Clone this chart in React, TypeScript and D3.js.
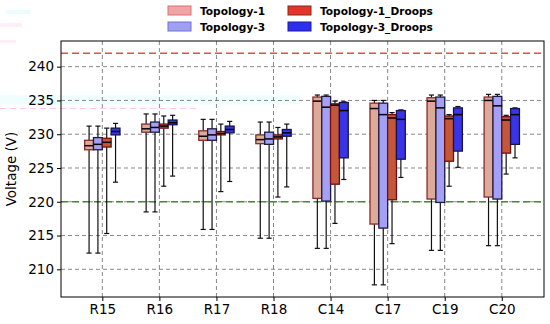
import React, { useEffect, useRef } from 'react';
import * as d3 from 'd3';

// five-number summaries per location: [low whisker, q1, median, q3, high whisker]
const categories = ['R15', 'R16', 'R17', 'R18', 'C14', 'C17', 'C19', 'C20'];

const topology1 = [
    [212.4, 227.7, 228.3, 229.1, 231.2],
    [218.5, 230.3, 230.8, 231.5, 233.0],
    [215.9, 229.1, 229.7, 230.5, 232.2],
    [214.6, 228.6, 229.2, 229.9, 231.8],
    [213.1, 220.5, 234.9, 235.5, 235.8],
    [207.7, 216.7, 233.8, 234.6, 235.0],
    [212.8, 220.4, 234.9, 235.4, 235.8],
    [213.5, 220.7, 235.0, 235.5, 235.9],
];

const topology3 = [
    [212.4, 227.7, 228.5, 229.5, 231.2],
    [218.5, 230.3, 231.0, 231.8, 233.0],
    [215.9, 229.1, 229.9, 230.8, 232.2],
    [214.6, 228.5, 229.3, 230.3, 231.8],
    [213.1, 220.1, 234.0, 235.6, 235.8],
    [207.7, 216.1, 232.9, 234.6, 235.0],
    [212.8, 219.9, 233.9, 235.5, 235.8],
    [213.5, 220.4, 234.2, 235.6, 235.9],
];

const topology1Droops = [
    [215.3, 228.1, 228.8, 229.4, 230.9],
    [222.3, 230.9, 231.2, 231.5, 232.7],
    [221.5, 229.9, 230.1, 230.4, 231.5],
    [220.7, 229.3, 229.6, 229.9, 231.0],
    [216.8, 222.6, 234.3, 234.5, 234.9],
    [213.8, 220.3, 232.4, 232.9, 233.2],
    [222.3, 226.0, 232.3, 232.7, 232.9],
    [224.1, 227.2, 232.1, 232.6, 232.8],
];

const topology3Droops = [
    [222.9, 229.9, 230.4, 230.9, 231.6],
    [223.8, 231.4, 231.7, 232.1, 232.8],
    [223.0, 230.2, 230.7, 231.2, 231.9],
    [222.2, 229.7, 230.2, 230.7, 231.5],
    [223.3, 226.5, 233.5, 234.7, 234.8],
    [223.6, 226.3, 232.2, 233.5, 233.6],
    [225.1, 227.5, 232.9, 233.9, 234.1],
    [226.5, 228.5, 232.9, 233.8, 233.9],
];

const yTicks = [210, 215, 220, 225, 230, 235, 240];
const upperLimit = 242;
const lowerLimit = 220;

const series = [
    { name: 'Topology-1', data: topology1, fill: '#dcaa98', edge: '#8b2a2a', legendFill: '#f2a3a3', legendEdge: '#e07070', offset: -0.232 },
    { name: 'Topology-3', data: topology3, fill: '#a4a0f6', edge: '#1c1c40', legendFill: '#a0a0f2', legendEdge: '#7070d8', offset: -0.077 },
    { name: 'Topology-1_Droops', data: topology1Droops, fill: '#c4573a', edge: '#6e1010', legendFill: '#e3352a', legendEdge: '#8a2a10', offset: 0.077 },
    { name: 'Topology-3_Droops', data: topology3Droops, fill: '#3a34e8', edge: '#141450', legendFill: '#2e2ef0', legendEdge: '#1a1aa0', offset: 0.232 },
];

export default function App() {
    const width = 550;
    const height = 324;
    const svgRef = useRef<SVGSVGElement>(null);

    useEffect(() => {
        const svg = d3.select(svgRef.current);
        svg.selectAll('*').remove();

        const left = 61, right = 544, top = 41, bottom = 297;
        const font = 'DejaVu Sans, sans-serif';

        const x = d3.scaleLinear().domain([-0.724, 7.74]).range([left, right]);
        const y = d3.scaleLinear().domain([205.9, 243.8]).range([bottom, top]);

        svg.append('rect').attr('width', width).attr('height', height).attr('fill', '#fff');

        // faint smudges from the source image
        svg.append('rect').attr('x', 0).attr('y', y(235) - 5).attr('width', 300).attr('height', 9).attr('fill', '#effdfd');
        svg.append('line').attr('x1', 0).attr('x2', 200).attr('y1', y(233.8)).attr('y2', y(233.8))
            .attr('stroke', '#ffc8ec').attr('stroke-width', 1).attr('stroke-dasharray', '6,4');
        [[6, 10, 24, 4, '#ecfcfc'], [0, 23, 22, 4, '#fdeef8'], [0, 40, 16, 3, '#fdeef8']].forEach(([rx, ry, rw, rh, c]) => {
            svg.append('rect').attr('x', rx).attr('y', ry).attr('width', rw).attr('height', rh).attr('fill', c as string);
        });

        const g = svg.append('g');

        // grid
        g.selectAll('.ygrid').data(yTicks).enter().append('line')
            .attr('x1', left).attr('x2', right)
            .attr('y1', d => y(d)).attr('y2', d => y(d))
            .attr('stroke', '#6a6a6a').attr('stroke-width', 0.8).attr('stroke-dasharray', '4,3');
        g.selectAll('.xgrid').data(categories).enter().append('line')
            .attr('x1', (d, i) => x(i)).attr('x2', (d, i) => x(i))
            .attr('y1', top).attr('y2', bottom)
            .attr('stroke', '#6a6a6a').attr('stroke-width', 0.8).attr('stroke-dasharray', '4,3');

        // limit lines
        g.append('line').attr('x1', left).attr('x2', right)
            .attr('y1', y(upperLimit)).attr('y2', y(upperLimit))
            .attr('stroke', '#e0504a').attr('stroke-width', 1.5).attr('stroke-dasharray', '7,4');
        g.append('line').attr('x1', left).attr('x2', right)
            .attr('y1', y(lowerLimit)).attr('y2', y(lowerLimit))
            .attr('stroke', '#4f8a30').attr('stroke-width', 1.5).attr('stroke-dasharray', '7,4');

        // boxes
        const boxW = x(0.155) - x(0);
        const capW = x(0.09) - x(0);
        series.forEach(s => {
            const sg = g.append('g');
            s.data.forEach((d, i) => {
                const [lo, q1, med, q3, hi] = d;
                const cx = x(i + s.offset);
                sg.append('line').attr('x1', cx).attr('x2', cx).attr('y1', y(lo)).attr('y2', y(q1))
                    .attr('stroke', '#111').attr('stroke-width', 1.2);
                sg.append('line').attr('x1', cx).attr('x2', cx).attr('y1', y(q3)).attr('y2', y(hi))
                    .attr('stroke', '#111').attr('stroke-width', 1.2);
                [lo, hi].forEach(v => {
                    sg.append('line').attr('x1', cx - capW / 2).attr('x2', cx + capW / 2)
                        .attr('y1', y(v)).attr('y2', y(v))
                        .attr('stroke', '#111').attr('stroke-width', 1.2);
                });
                sg.append('rect')
                    .attr('x', cx - boxW / 2).attr('width', boxW)
                    .attr('y', y(q3)).attr('height', y(q1) - y(q3))
                    .attr('fill', s.fill).attr('stroke', s.edge).attr('stroke-width', 1.3);
                sg.append('line').attr('x1', cx - boxW / 2).attr('x2', cx + boxW / 2)
                    .attr('y1', y(med)).attr('y2', y(med))
                    .attr('stroke', '#000').attr('stroke-width', 1.5);
            });
        });

        // frame
        g.append('rect').attr('x', left).attr('y', top).attr('width', right - left).attr('height', bottom - top)
            .attr('fill', 'none').attr('stroke', '#000').attr('stroke-width', 1);

        // y axis
        const yAxis = g.append('g').attr('transform', `translate(${left},0)`)
            .call(d3.axisLeft(y).tickValues(yTicks).tickSize(4).tickPadding(3).tickFormat(d3.format('d')));
        yAxis.select('.domain').remove();
        yAxis.selectAll('text').attr('font-family', font).attr('font-size', 13.5).attr('fill', '#000');

        // x axis
        const xAxis = g.append('g').attr('transform', `translate(0,${bottom})`)
            .call(d3.axisBottom(x).tickValues(d3.range(categories.length)).tickSize(4).tickPadding(3)
                .tickFormat(i => categories[i as number]));
        xAxis.select('.domain').remove();
        xAxis.selectAll('text').attr('font-family', font).attr('font-size', 13.5).attr('fill', '#000');

        svg.append('text')
            .attr('transform', `translate(16,${(top + bottom) / 2}) rotate(-90)`)
            .attr('text-anchor', 'middle')
            .attr('font-family', font).attr('font-size', 13.5)
            .text('Voltage (V)');

        // legend
        const legendPos = [[168, 6], [168, 22], [288, 6], [288, 22]];
        series.forEach((s, i) => {
            const [lx, ly] = legendPos[i];
            svg.append('rect').attr('x', lx).attr('y', ly).attr('width', 23).attr('height', 9)
                .attr('fill', s.legendFill).attr('stroke', s.legendEdge).attr('stroke-width', 1);
            svg.append('text').attr('x', lx + 32).attr('y', ly + 8.5)
                .attr('font-family', font).attr('font-weight', 'bold').attr('font-size', 10.6)
                .text(s.name);
        });
    }, []);

    return <svg ref={svgRef} width={width} height={height}
        style={{ position: 'absolute', left: 0, top: 0 }}></svg>;
}
